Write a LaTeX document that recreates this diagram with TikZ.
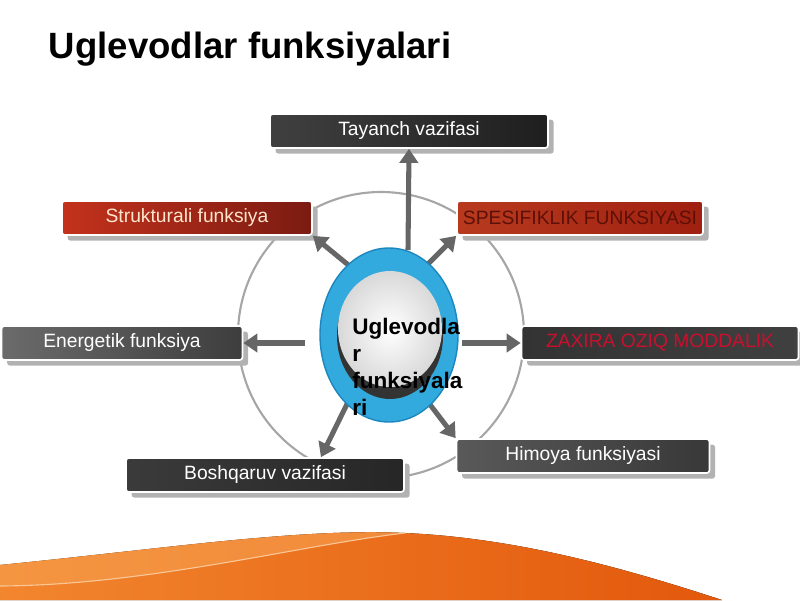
\documentclass[tikz,border=0pt]{standalone}
\usepackage{fontspec}
\setmainfont{Liberation Sans}
\usepackage{xcolor}
\usetikzlibrary{arrows.meta, positioning, shapes.geometric, calc, shadows}

\definecolor{ringblue}{HTML}{33AADE}
\definecolor{ringdark}{HTML}{1C86BE}
\definecolor{waveA}{HTML}{F2862E}
\definecolor{waveB}{HTML}{E3580C}
\definecolor{waveC}{HTML}{F6A050}
\definecolor{boxtext}{HTML}{FFE6CC}
\definecolor{spestext}{HTML}{5C1008}
\definecolor{zaxtext}{HTML}{C8102E}

\tikzset{
  fnbox/.style={rectangle, rounded corners=2pt, draw=white, line width=1.2pt,
    minimum height=34*0.025cm, inner sep=0pt, font=\fontsize{13.7}{16}\selectfont,
    drop shadow={shadow xshift=4pt, shadow yshift=-4pt, fill=gray!60, opacity=1}},
  fatarrow/.style={line width=3.6pt, draw=black!60, -{Triangle[length=10pt, width=13pt]}}
}

\begin{document}
\begin{tikzpicture}[x=0.025cm, y=-0.025cm]
  \useasboundingbox (0,0) rectangle (800,600);

  % wave at the bottom
  \fill[left color=waveA, right color=waveB] (0,565) .. controls (170,548) and (300,528) .. (405,533)
    .. controls (520,538) and (630,570) .. (722,600) -- (0,600) -- cycle;
  \fill[waveC, opacity=0.6] (0,565) .. controls (170,548) and (300,528) .. (405,533)
    .. controls (300,545) and (150,585) .. (0,586) -- cycle;
  \draw[waveC!60!white, line width=0.8pt] (0,586) .. controls (150,585) and (300,545) .. (405,533);

  \node[anchor=base west, font=\fontsize{26}{30}\selectfont\bfseries] (title) at (44,58) {Uglevodlar funksiyalari};

  \draw[gray!70, line width=1.5pt] (381,335) circle[radius=143];

  \foreach \n/\x/\y/\w/\l/\r/\t/\txt in {
      tay/409/131/278/black!75/black!88/white/Tayanch vazifasi,
      stru/187/218/250/{rgb,255:red,195;green,50;blue,28}/{rgb,255:red,123;green,27;blue,18}/boxtext/Strukturali funksiya,
      spes/580/218/246/{rgb,255:red,184;green,58;blue,30}/{rgb,255:red,160;green,32;blue,16}/spestext/SPESIFIKLIK FUNKSIYASI,
      ener/122/343/241/black!58/black!76/white/Energetik funksiya,
      zax/660/343/277/black!80/black!75/zaxtext/ZAXIRA OZIQ MODDALIK,
      bosh/265/475/278/black!77/black!85/white/Boshqaruv vazifasi,
      him/583/456/253/black!65/black!78/white/Himoya funksiyasi} {
    \node[fnbox, minimum width=\w*0.025cm, left color=\l, right color=\r, text=\t] (\n) at (\x,\y) {\txt};
  }

  \coordinate (s1) at (408,250);
  \coordinate (s2) at (352,268);
  \coordinate (s3) at (428,264);
  \coordinate (s4) at (305,343);
  \coordinate (s5) at (462,343);
  \coordinate (s6) at (350,398);
  \coordinate (s7) at (425,398);
  \draw[fatarrow] (s1) -- (tay.south);
  \draw[fatarrow] (s2) -- (stru.south east);
  \draw[fatarrow] (s3) -- (spes.south west);
  \draw[fatarrow] (s4) -- (ener.east);
  \draw[fatarrow] (s5) -- (zax.west);
  \draw[fatarrow] (s6) -- ($(bosh.north west)!0.7!(bosh.north east)$);
  \draw[fatarrow] (s7) -- (him.north west);

  \node[ellipse, fill=ringblue, draw=ringdark, line width=1pt, minimum width=138*0.025cm,
    minimum height=174*0.025cm] (ring) at (389,335) {};
  \node[ellipse, fill=black!80, minimum width=106*0.025cm, minimum height=126*0.025cm] (shade) at (390,336) {};
  \node[ellipse, inner color=white, outer color=gray!30, minimum width=104*0.025cm,
    minimum height=116*0.025cm] (core) at (390,329) {};

  \node[anchor=north west, align=left, inner sep=0pt, font=\fontsize{16}{19.2}\selectfont\bfseries] (ctext)
    at (352,318) {Uglevodla\\r\\funksiyala\\ri};
\end{tikzpicture}
\end{document}
